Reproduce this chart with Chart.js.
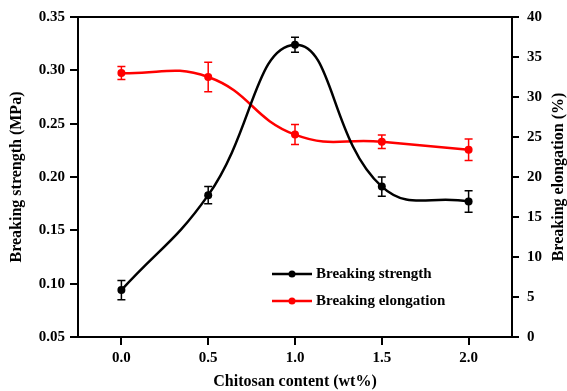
<!DOCTYPE html>
<html>
<head>
<meta charset="utf-8">
<script src="https://cdn.jsdelivr.net/npm/chart.js@4/dist/chart.umd.min.js"></script>
<style>
  body { margin: 0; background: #fff; }
</style>
</head>
<body>
<canvas id="chart" width="567" height="391"></canvas>
<script>
// data
const chitosan = [0.0, 0.5, 1.0, 1.5, 2.0];
const strength = [0.094, 0.183, 0.324, 0.191, 0.177];
const strengthErr = [0.009, 0.008, 0.007, 0.009, 0.010];
const elongation = [33.0, 32.5, 25.3, 24.4, 23.4];
const elongationErr = [0.8, 1.85, 1.25, 0.85, 1.35];

const xTicks = [0.0, 0.5, 1.0, 1.5, 2.0];
const leftTicks = [0.05, 0.10, 0.15, 0.20, 0.25, 0.30, 0.35];
const rightTicks = [0, 5, 10, 15, 20, 25, 30, 35, 40];

const rightTitle = 'Breaking elongation (%)';
const serif = "'Times New Roman', 'Liberation Serif', serif";

const toPoints = (ys) => chitosan.map((x, i) => ({x: x, y: ys[i]}));

// error bars, drawn through the scales
const errorBars = {
    id: 'errorBars',
    afterDatasetsDraw(chart) {
        const ctx = chart.ctx;
        chart.data.datasets.forEach((ds, i) => {
            if (!ds.errors) return;
            const xs = chart.scales.x;
            const ys = chart.scales[ds.yAxisID];
            ctx.save();
            ctx.strokeStyle = ds.borderColor;
            ctx.lineWidth = 1.5;
            ds.data.forEach((p, j) => {
                const px = xs.getPixelForValue(p.x);
                const top = ys.getPixelForValue(p.y + ds.errors[j]);
                const bot = ys.getPixelForValue(p.y - ds.errors[j]);
                ctx.beginPath();
                ctx.moveTo(px, top); ctx.lineTo(px, bot);
                ctx.moveTo(px - 4, top); ctx.lineTo(px + 4, top);
                ctx.moveTo(px - 4, bot); ctx.lineTo(px + 4, bot);
                ctx.stroke();
            });
            ctx.restore();
        });
    }
};

// top frame line, rotated right title and the inner legend
const frame = {
    id: 'frame',
    afterDraw(chart) {
        const ctx = chart.ctx;
        const a = chart.chartArea;
        ctx.save();
        ctx.strokeStyle = '#000';
        ctx.lineWidth = 2;
        ctx.beginPath();
        ctx.moveTo(a.left - 1, a.top);
        ctx.lineTo(a.right + 1, a.top);
        ctx.stroke();

        ctx.font = 'bold 16px ' + serif;
        ctx.fillStyle = '#000';
        ctx.textAlign = 'center';
        ctx.textBaseline = 'middle';
        ctx.translate(559, (a.top + a.bottom) / 2);
        ctx.rotate(-Math.PI / 2);
        ctx.fillText(rightTitle, 0, 0);
        ctx.restore();

        ctx.save();
        ctx.font = 'bold 15px ' + serif;
        ctx.textBaseline = 'middle';
        chart.data.datasets.forEach((ds, i) => {
            const y = a.bottom - 63 + i * 27;
            const x0 = a.left + 194;
            ctx.strokeStyle = ds.borderColor;
            ctx.lineWidth = 2.5;
            ctx.beginPath();
            ctx.moveTo(x0, y); ctx.lineTo(x0 + 40, y);
            ctx.stroke();
            ctx.fillStyle = ds.borderColor;
            ctx.beginPath();
            ctx.arc(x0 + 20, y, 3.5, 0, Math.PI * 2);
            ctx.fill();
            ctx.fillStyle = '#000';
            ctx.fillText(ds.label, x0 + 44, y);
        });
        ctx.restore();
    }
};

const axisStyle = {
    border: {display: true, color: '#000', width: 2},
    grid: {drawOnChartArea: false, drawTicks: true, tickLength: 8, color: '#000', lineWidth: 2},
};

new Chart(document.getElementById('chart').getContext('2d'), {
    type: 'line',
    data: {
        datasets: [{
            label: 'Breaking strength',
            data: toPoints(strength),
            errors: strengthErr,
            yAxisID: 'y',
            borderColor: '#000000',
            backgroundColor: '#000000',
            borderWidth: 2.5,
            pointRadius: 4,
            pointBackgroundColor: '#000000',
            pointBorderWidth: 0,
            tension: 0.45
        }, {
            label: 'Breaking elongation',
            data: toPoints(elongation),
            errors: elongationErr,
            yAxisID: 'y1',
            borderColor: '#ff0000',
            backgroundColor: '#ff0000',
            borderWidth: 2.5,
            pointRadius: 4,
            pointBackgroundColor: '#ff0000',
            pointBorderWidth: 0,
            tension: 0.45
        }]
    },
    options: {
        responsive: false,
        animation: false,
        layout: {padding: {top: 16, left: 0, right: 0, bottom: 0}},
        plugins: {legend: {display: false}, tooltip: {enabled: false}},
        scales: {
            x: {
                type: 'linear',
                min: -0.25,
                max: 2.25,
                ...axisStyle,
                afterBuildTicks: (s) => { s.ticks = xTicks.map(v => ({value: v})); },
                afterFit: (s) => { s.height = 54; },
                ticks: {
                    color: '#000', padding: 4, maxRotation: 0,
                    font: {family: serif, size: 15, weight: 'bold'},
                    callback: (v) => Number(v).toFixed(1)
                },
                title: {
                    display: true, text: 'Chitosan content (wt%)', color: '#000',
                    padding: {top: 0, bottom: 0},
                    font: {family: serif, size: 16, weight: 'bold'}
                }
            },
            y: {
                type: 'linear',
                position: 'left',
                min: 0.05,
                max: 0.35,
                ...axisStyle,
                afterBuildTicks: (s) => { s.ticks = leftTicks.map(v => ({value: v})); },
                afterFit: (s) => { s.width = 78; },
                ticks: {
                    color: '#000', padding: 5,
                    font: {family: serif, size: 15, weight: 'bold'},
                    callback: (v) => Number(v).toFixed(2)
                },
                title: {
                    display: true, text: 'Breaking strength (MPa)', color: '#000',
                    padding: {top: 7, bottom: 0},
                    font: {family: serif, size: 16, weight: 'bold'}
                }
            },
            y1: {
                type: 'linear',
                position: 'right',
                min: 0,
                max: 40,
                ...axisStyle,
                grid: {drawOnChartArea: false, drawTicks: true, tickLength: 7, color: '#000', lineWidth: 2},
                afterBuildTicks: (s) => { s.ticks = rightTicks.map(v => ({value: v})); },
                afterFit: (s) => { s.width = 55; },
                ticks: {
                    color: '#000', padding: 8,
                    font: {family: serif, size: 15, weight: 'bold'},
                    callback: (v) => String(v)
                }
            }
        }
    },
    plugins: [errorBars, frame]
});
</script>
</body>
</html>
